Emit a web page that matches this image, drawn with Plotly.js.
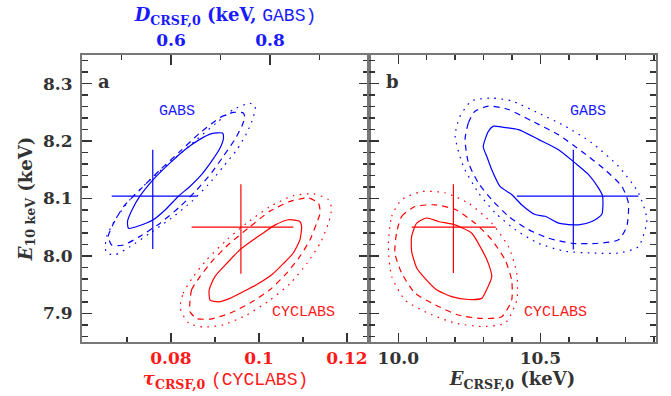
<!DOCTYPE html>
<html>
<head>
<meta charset="utf-8">
<script src="https://cdn.plot.ly/plotly-3.0.1.min.js"></script>
<style>html,body{margin:0;padding:0;background:#fff;}#chart{width:671px;height:396px;}</style>
</head>
<body>
<div id="chart"></div>
<script>
// ---------- Data ----------
// Panel a, GABS contours: x = D_CRSF,0 (keV, top axis), y = E_10keV (keV)
const aGabsSolidD = [0.514,0.512,0.521,0.537,0.564,0.598,0.628,0.658,0.682,0.704,0.706,0.699,0.682,0.662,0.638,0.615,0.588,0.564,0.537];
const aGabsSolidE = [8.048,8.060,8.080,8.104,8.133,8.162,8.185,8.203,8.213,8.214,8.206,8.188,8.165,8.142,8.121,8.104,8.080,8.063,8.053];
const aGabsDashD = [0.480,0.473,0.484,0.504,0.537,0.578,0.618,0.658,0.699,0.726,0.746,0.749,0.743,0.729,0.706,0.682,0.652,0.618,0.578,0.537,0.504];
const aGabsDashE = [8.019,8.034,8.057,8.086,8.115,8.150,8.182,8.214,8.241,8.250,8.249,8.241,8.226,8.203,8.174,8.145,8.115,8.086,8.057,8.034,8.019];
const aGabsDotD = [0.467,0.470,0.487,0.517,0.558,0.605,0.652,0.692,0.726,0.759,0.770,0.766,0.753,0.733,0.706,0.675,0.642,0.601,0.558,0.517,0.487,0.470];
const aGabsDotE = [8.015,8.034,8.063,8.098,8.133,8.168,8.203,8.232,8.255,8.266,8.261,8.241,8.214,8.185,8.156,8.124,8.095,8.066,8.040,8.016,8.002,8.005];

// Panel a, CYCLABS contours: x = tau_CRSF,0 (bottom axis)
const aCycSolidT = [0.0889,0.0887,0.0900,0.0927,0.0957,0.0987,0.1010,0.1037,0.1067,0.1093,0.1097,0.1093,0.1078,0.1056,0.1029,0.0995,0.0965,0.0934,0.0908];
const aCycSolidE = [7.923,7.941,7.964,7.987,8.011,8.028,8.040,8.054,8.063,8.060,8.051,8.028,8.005,7.987,7.967,7.950,7.938,7.926,7.920];
const aCycDashT = [0.0843,0.0847,0.0866,0.0896,0.0934,0.0980,0.1025,0.1071,0.1112,0.1135,0.1139,0.1131,0.1116,0.1093,0.1063,0.1025,0.0980,0.0934,0.0889,0.0858,0.0843];
const aCycDashE = [7.918,7.941,7.964,7.993,8.022,8.051,8.078,8.095,8.101,8.092,8.075,8.057,8.028,7.999,7.970,7.941,7.918,7.900,7.890,7.891,7.903];
const aCycDotT = [0.0821,0.0828,0.0851,0.0881,0.0927,0.0972,0.1025,0.1078,0.1124,0.1158,0.1165,0.1158,0.1139,0.1109,0.1071,0.1025,0.0972,0.0919,0.0874,0.0840];
const aCycDotE = [7.909,7.935,7.964,7.993,8.028,8.057,8.086,8.105,8.108,8.098,8.083,8.057,8.022,7.987,7.952,7.923,7.897,7.880,7.876,7.883];

// Panel b, GABS contours: x = E_CRSF,0 (keV)
const bGabsSolidX = [10.299,10.317,10.335,10.370,10.423,10.493,10.564,10.622,10.669,10.705,10.719,10.716,10.681,10.634,10.564,10.517,10.481,10.434,10.399,10.358,10.329,10.311];
const bGabsSolidE = [8.190,8.217,8.226,8.224,8.220,8.203,8.185,8.162,8.142,8.118,8.104,8.072,8.060,8.054,8.057,8.069,8.072,8.089,8.107,8.121,8.150,8.174];
const bGabsDashX = [10.235,10.247,10.270,10.317,10.388,10.470,10.564,10.646,10.728,10.787,10.810,10.804,10.775,10.704,10.611,10.528,10.458,10.388,10.329,10.282,10.247];
const bGabsDashE = [8.203,8.232,8.252,8.261,8.255,8.235,8.211,8.182,8.150,8.121,8.092,8.051,8.028,8.022,8.022,8.031,8.046,8.069,8.098,8.127,8.162];
const bGabsDotX = [10.200,10.217,10.258,10.329,10.399,10.493,10.587,10.681,10.775,10.845,10.875,10.845,10.775,10.681,10.587,10.493,10.411,10.341,10.282,10.229];
const bGabsDotE = [8.209,8.243,8.270,8.275,8.270,8.249,8.226,8.197,8.156,8.110,8.063,8.016,8.005,8.005,8.008,8.022,8.046,8.075,8.110,8.156];

// Panel b, CYCLABS contours
const bCycSolidX = [10.065,10.100,10.141,10.200,10.258,10.294,10.317,10.329,10.305,10.294,10.247,10.188,10.135,10.094,10.065,10.047,10.047];
const bCycSolidE = [8.057,8.066,8.060,8.054,8.040,8.011,7.987,7.964,7.935,7.926,7.924,7.929,7.941,7.961,7.979,8.008,8.034];
const bCycDashX = [9.994,10.012,10.059,10.129,10.200,10.270,10.329,10.376,10.399,10.399,10.364,10.294,10.211,10.129,10.059,10.012,9.988];
const bCycDashE = [8.040,8.069,8.086,8.089,8.081,8.057,8.028,7.993,7.958,7.923,7.894,7.891,7.897,7.915,7.935,7.970,8.005];
const bCycDotX = [9.965,9.977,10.012,10.082,10.164,10.247,10.329,10.388,10.417,10.417,10.376,10.294,10.200,10.106,10.024,9.977];
const bCycDotE = [8.016,8.069,8.098,8.112,8.110,8.092,8.057,8.016,7.970,7.923,7.883,7.877,7.883,7.900,7.923,7.964];

// Best-fit points with errors: [x, y], errors [xMinus, xPlus], [yMinus, yPlus]
const aGabsBest = [0.563, 8.104];   const aGabsErrX = [0.083, 0.089];  const aGabsErrY = [0.092, 0.081];
const aCycBest  = [0.0959, 8.050];  const aCycErrX  = [0.0112, 0.0119]; const aCycErrY = [0.081, 0.075];
const bGabsBest = [10.616, 8.104];  const bGabsErrX = [0.199, 0.229];  const bGabsErrY = [0.093, 0.081];
const bCycBest  = [10.194, 8.050];  const bCycErrX  = [0.147, 0.149];  const bCycErrY = [0.080, 0.075];

// Tick labels
const tauTickVals = [0.08, 0.10, 0.12];       const tauTickText = ['0.08', '0.1', '0.12'];
const dTickVals   = [0.6, 0.8];               const dTickText   = ['0.6', '0.8'];
const eCrsfTickVals = [10.0, 10.5];           const eCrsfTickText = ['10.0', '10.5'];
const yTickVals = [7.9, 8.0, 8.1, 8.2, 8.3];  const yTickText = ['7.9', '8.0', '8.1', '8.2', '8.3'];

// ---------- Styling ----------
const BLUE = '#0000ff', RED = '#ff0000';
const BLUE_T = '#1a1aff', RED_T = '#ff1a1a';
const GREY = '#333333';
const DASH = '6px,5px', DOT = '1.6px,5.5px';
const LW = 1.2;

function closed(a) { return a.concat([a[0]]); }
function contour(xs, ys, color, dash, xa, ya) {
  return {type: 'scatter', mode: 'lines', x: closed(xs), y: closed(ys),
    xaxis: xa, yaxis: ya, hoverinfo: 'skip',
    line: {color: color, width: LW, dash: dash, shape: 'spline', smoothing: 0.6}};
}
function cross(best, ex, ey, color, xa, ya) {
  return {type: 'scatter', mode: 'markers', x: [best[0]], y: [best[1]],
    xaxis: xa, yaxis: ya, hoverinfo: 'skip',
    marker: {size: 1, color: color},
    error_x: {type: 'data', symmetric: false, array: [ex[1]], arrayminus: [ex[0]], width: 0, thickness: LW, color: color},
    error_y: {type: 'data', symmetric: false, array: [ey[1]], arrayminus: [ey[0]], width: 0, thickness: LW, color: color}};
}

const data = [
  contour(aGabsSolidD, aGabsSolidE, BLUE, 'solid', 'x2', 'y'),
  contour(aGabsDashD, aGabsDashE, BLUE, DASH, 'x2', 'y'),
  contour(aGabsDotD, aGabsDotE, BLUE, DOT, 'x2', 'y'),
  contour(aCycSolidT, aCycSolidE, RED, 'solid', 'x', 'y'),
  contour(aCycDashT, aCycDashE, RED, DASH, 'x', 'y'),
  contour(aCycDotT, aCycDotE, RED, DOT, 'x', 'y'),
  contour(bGabsSolidX, bGabsSolidE, BLUE, 'solid', 'x3', 'y2'),
  contour(bGabsDashX, bGabsDashE, BLUE, DASH, 'x3', 'y2'),
  contour(bGabsDotX, bGabsDotE, BLUE, DOT, 'x3', 'y2'),
  contour(bCycSolidX, bCycSolidE, RED, 'solid', 'x3', 'y2'),
  contour(bCycDashX, bCycDashE, RED, DASH, 'x3', 'y2'),
  contour(bCycDotX, bCycDotE, RED, DOT, 'x3', 'y2'),
  cross(aGabsBest, aGabsErrX, aGabsErrY, BLUE, 'x2', 'y'),
  cross(aCycBest, aCycErrX, aCycErrY, RED, 'x', 'y'),
  cross(bGabsBest, bGabsErrX, bGabsErrY, BLUE, 'x3', 'y2'),
  cross(bCycBest, bCycErrX, bCycErrY, RED, 'x3', 'y2')
];

const SERIF = 'DejaVu Serif';
const MONO = 'Liberation Mono';
const baseAxis = {
  showgrid: false, zeroline: false, showline: true, linecolor: '#777', linewidth: 2,
  ticks: 'inside', tickcolor: GREY, tickwidth: 1.5, fixedrange: true
};
const tickFont = c => ({family: SERIF, size: 17, color: c, weight: 'bold'});

const layout = {
  width: 671, height: 396,
  margin: {l: 82, r: 15, t: 55, b: 54, pad: 0},
  paper_bgcolor: '#fff', plot_bgcolor: '#fff',
  showlegend: false,
  font: {family: SERIF, size: 17, color: GREY},
  xaxis: Object.assign({}, baseAxis, {
    domain: [0, 0.5], range: [0.0598, 0.125], anchor: 'y', side: 'bottom', mirror: false,
    tickmode: 'array', tickvals: tauTickVals, ticktext: tauTickText, ticklen: 9,
    minor: {dtick: 0.01, tick0: 0, ticklen: 5, ticks: 'inside', tickcolor: GREY, tickwidth: 1.5},
    tickfont: tickFont(RED_T),
    title: {text: "<b><i>τ</i><sub>CRSF,0</sub></b> <span style=\"font-family:Liberation Mono\">(CYCLABS)</span>",
            font: {family: SERIF, size: 18, color: RED_T}, standoff: 4}
  }),
  xaxis2: Object.assign({}, baseAxis, {
    overlaying: 'x', anchor: 'y', side: 'top', range: [0.42, 1.0], mirror: false,
    tickmode: 'array', tickvals: dTickVals, ticktext: dTickText, ticklen: 10,
    minor: {dtick: 0.1, tick0: 0, ticklen: 5, ticks: 'inside', tickcolor: GREY, tickwidth: 1.5},
    tickfont: tickFont(BLUE_T),
    title: {text: "<b><i>D</i><sub>CRSF,0</sub> (keV,</b> <span style=\"font-family:Liberation Mono\">GABS)</span>",
            font: {family: SERIF, size: 18, color: BLUE_T}, standoff: 4}
  }),
  xaxis3: Object.assign({}, baseAxis, {
    domain: [0.5, 1], range: [9.897, 10.907], anchor: 'y2', side: 'bottom', mirror: 'ticks',
    tickmode: 'array', tickvals: eCrsfTickVals, ticktext: eCrsfTickText, ticklen: 9,
    minor: {dtick: 0.1, tick0: 0, ticklen: 5, ticks: 'inside', tickcolor: GREY, tickwidth: 1.5},
    tickfont: tickFont(GREY),
    title: {text: "<b><i>E</i><sub>CRSF,0</sub> (keV)</b>",
            font: {family: SERIF, size: 18, color: GREY}, standoff: 4}
  }),
  yaxis: Object.assign({}, baseAxis, {
    domain: [0, 1], range: [7.85, 8.35], anchor: 'x', side: 'left', mirror: 'ticks',
    tickmode: 'array', tickvals: yTickVals, ticktext: yTickText, ticklen: 10,
    ticklabelstandoff: 4,
    minor: {dtick: 0.02, tick0: 0, ticklen: 6, ticks: 'inside', tickcolor: GREY, tickwidth: 1.5},
    tickfont: tickFont(GREY),
    title: {text: "<b><i>E</i><sub>10 keV</sub> (keV)</b>",
            font: {family: SERIF, size: 18, color: GREY}, standoff: 6}
  }),
  yaxis2: Object.assign({}, baseAxis, {
    domain: [0, 1], matches: 'y', anchor: 'x3', side: 'left', mirror: 'ticks',
    tickmode: 'array', tickvals: yTickVals, ticktext: yTickText, ticklen: 10, showticklabels: false,
    minor: {dtick: 0.02, tick0: 0, ticklen: 6, ticks: 'inside', tickcolor: GREY, tickwidth: 1.5}
  }),
  annotations: [
    {xref: 'x', yref: 'y', x: 0.0648, y: 8.304, text: '<b>a</b>', showarrow: false,
     font: {family: SERIF, size: 18, color: GREY}},
    {xref: 'x3', yref: 'y2', x: 9.978, y: 8.304, text: '<b>b</b>', showarrow: false,
     font: {family: SERIF, size: 18, color: GREY}},
    {xref: 'x', yref: 'y', x: 0.0813, y: 8.252, text: 'GABS', showarrow: false,
     font: {family: MONO, size: 15, color: BLUE_T}},
    {xref: 'x', yref: 'y', x: 0.1101, y: 7.901, text: 'CYCLABS', showarrow: false,
     font: {family: MONO, size: 15, color: RED_T}},
    {xref: 'x3', yref: 'y2', x: 10.667, y: 8.252, text: 'GABS', showarrow: false,
     font: {family: MONO, size: 15, color: BLUE_T}},
    {xref: 'x3', yref: 'y2', x: 10.555, y: 7.902, text: 'CYCLABS', showarrow: false,
     font: {family: MONO, size: 15, color: RED_T}}
  ]
};

Plotly.newPlot('chart', data, layout, {displayModeBar: false, staticPlot: true});
</script>
</body>
</html>
